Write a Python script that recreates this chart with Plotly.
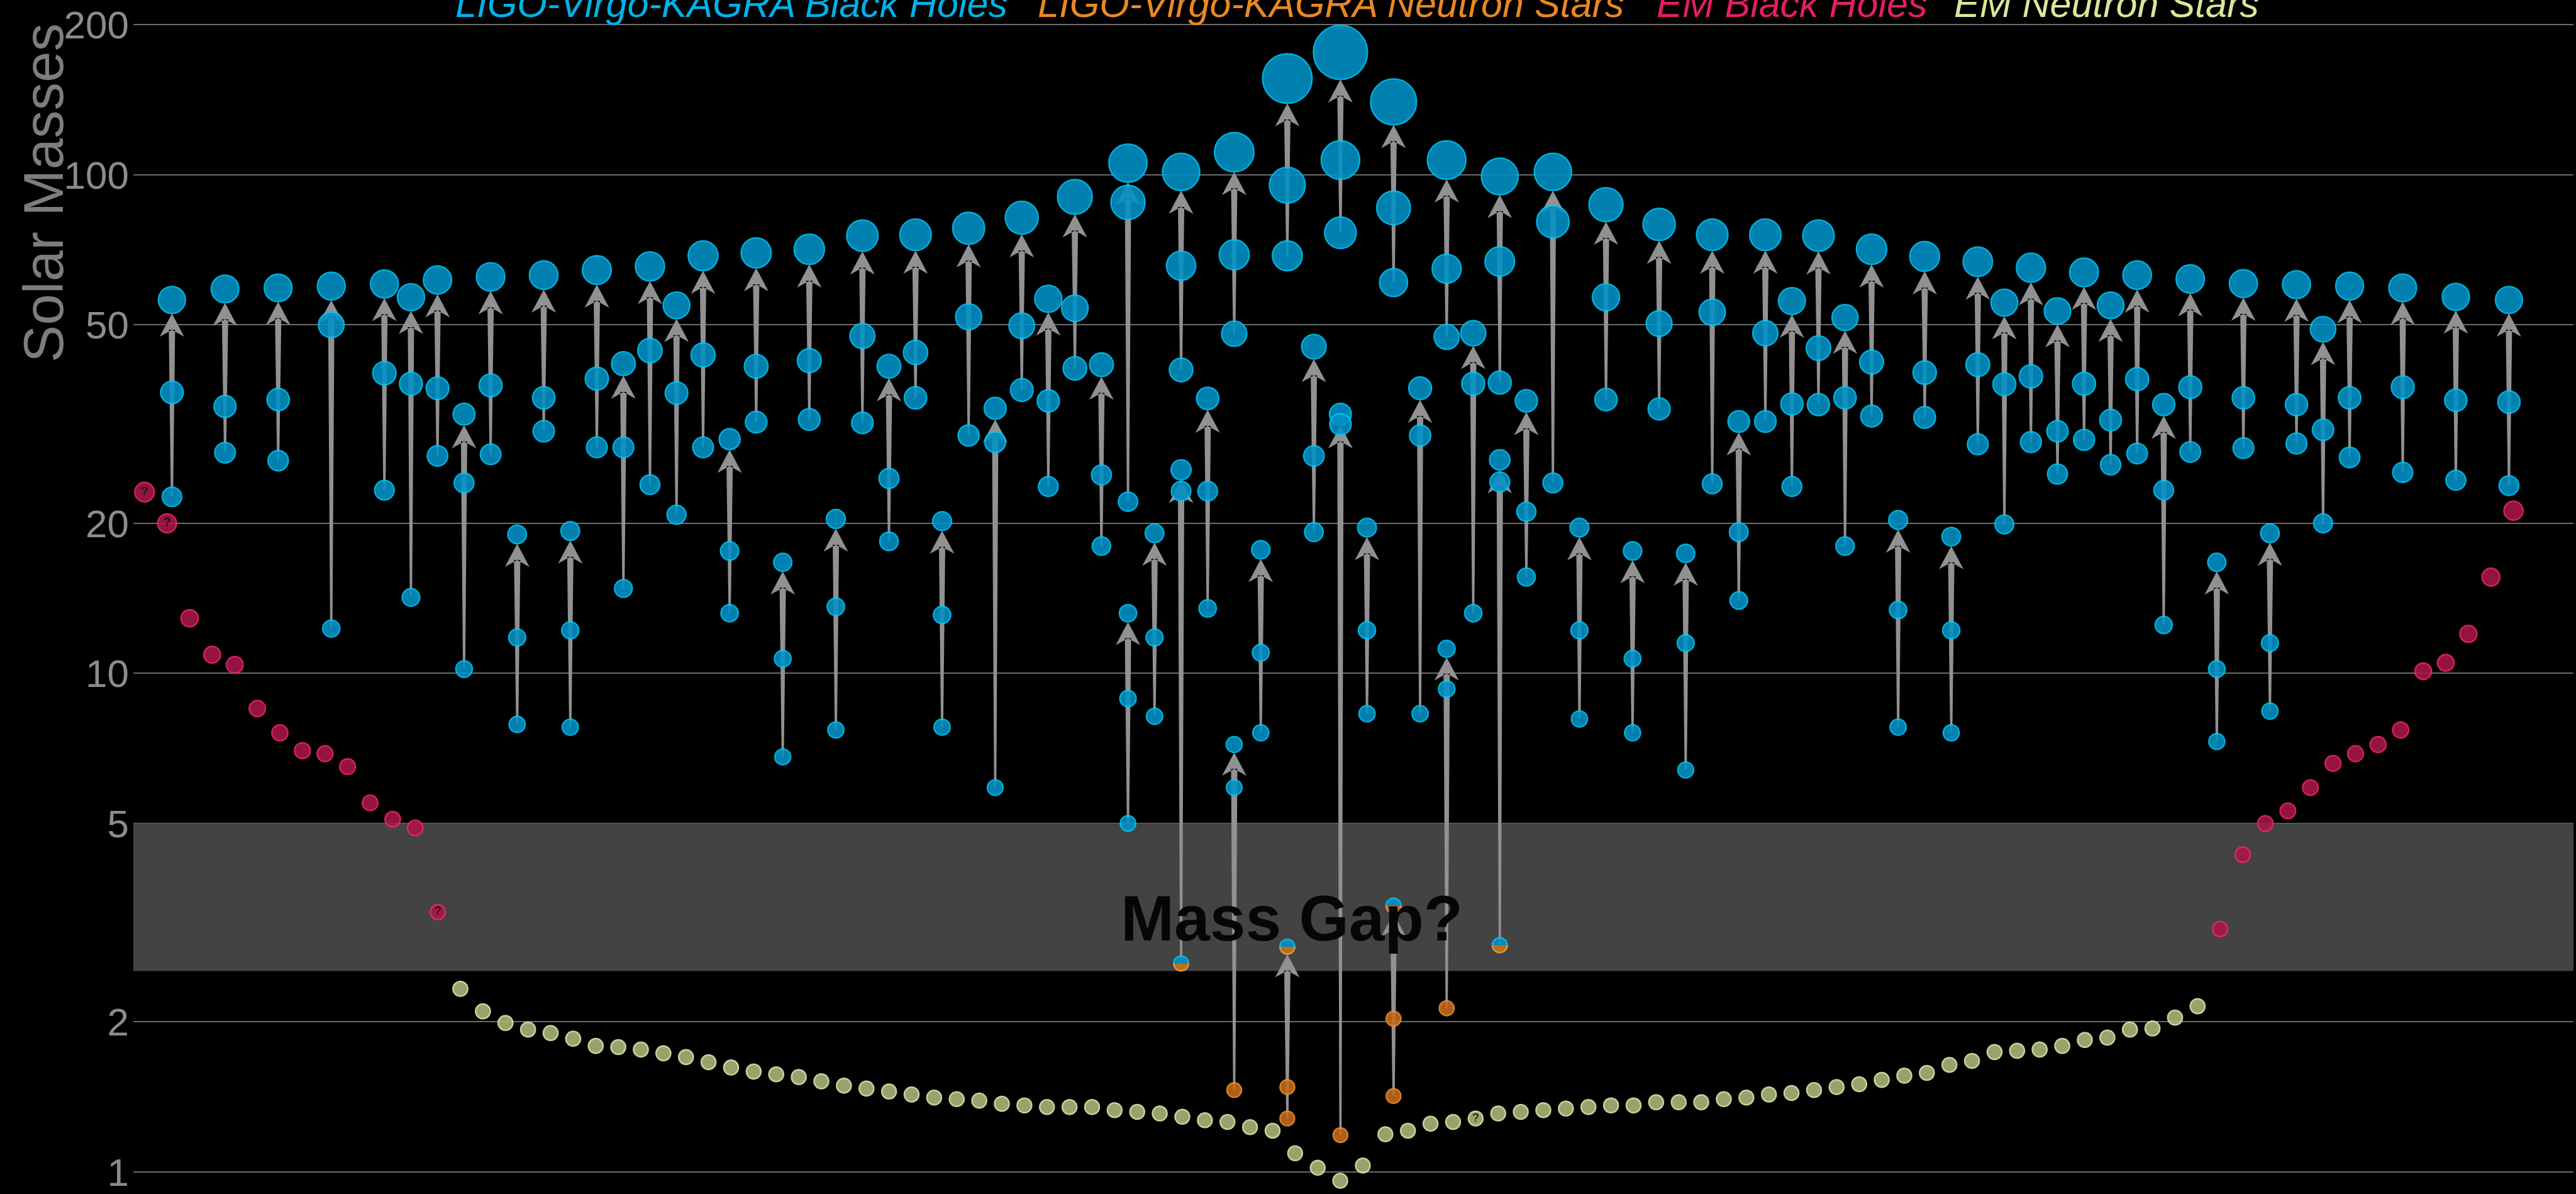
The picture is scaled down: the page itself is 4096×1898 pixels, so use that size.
import numpy as np
import plotly.graph_objects as go

# ---------------- DATA ----------------
# LIGO-Virgo-KAGRA binary black hole mergers: column slot, primary, secondary, remnant (solar masses)
bbh_slot = [0, 2, 4, 6, 8, 9, 10, 11, 12, 13, 14, 15, 16, 17, 18, 19, 20, 21, 22, 23,
            24, 25, 26, 27, 28, 29, 30, 31, 32, 33, 34, 35, 36, 36, 37, 38, 39, 40, 41, 42,
            43, 44, 45, 46, 47, 48, 49, 50, 51, 52, 53, 54, 55, 56, 57, 58, 59, 60, 61, 62,
            63, 64, 65, 66, 67, 68, 69, 70, 71, 72, 73, 74, 75, 76, 77, 78, 79, 80, 81, 82,
            84, 86, 88]
bbh_m1 = [36.6, 34.3, 35.4, 50.0, 40.0, 38.1, 37.3, 24.1, 37.8, 11.8,
          35.7, 12.2, 39.0, 28.4, 44.4, 36.5, 43.5, 17.6, 41.3, 10.7,
          42.4, 13.6, 47.5, 24.6, 44.0, 13.1, 51.9, 29.1, 49.8, 35.2,
          54.0, 25.0, 88.0, 8.9, 11.8, 65.7, 23.2, 69.1, 11.0, 95.3,
          27.3, 107.0, 12.2, 85.8, 30.0, 64.8, 38.1, 67.0, 21.1, 80.5,
          12.2, 56.8, 10.7, 50.3, 11.5, 53.0, 19.2, 48.1, 34.7, 44.9,
          35.7, 42.1, 13.4, 40.1, 12.2, 41.6, 38.0, 39.4, 30.6, 38.1,
          32.2, 38.9, 23.3, 37.5, 10.2, 35.7, 11.5, 34.6, 30.8, 35.7,
          37.5, 35.3, 35.0]
bbh_m2 = [22.6, 27.7, 26.7, 12.3, 23.3, 14.2, 27.3, 10.2, 27.5, 7.9,
          30.6, 7.8, 28.4, 14.8, 23.9, 20.8, 28.4, 13.2, 31.9, 6.8,
          32.3, 7.7, 31.8, 18.4, 35.7, 7.8, 30.0, 5.9, 37.0, 23.7,
          40.9, 18.0, 22.1, 5.0, 8.2, 40.6, 13.5, 48.0, 7.6, 68.8,
          19.2, 76.5, 8.3, 60.8, 8.3, 47.3, 13.2, 38.3, 15.6, 24.1,
          8.1, 35.4, 7.6, 33.9, 6.4, 24.0, 14.0, 32.0, 23.7, 34.6,
          18.0, 32.8, 7.8, 32.6, 7.6, 28.8, 19.9, 29.1, 25.1, 29.4,
          26.2, 27.6, 12.5, 27.8, 7.3, 28.3, 8.4, 28.9, 20.0, 27.1,
          25.3, 24.4, 23.8]
bbh_final = [56.1, 59.0, 59.3, 59.8, 60.4, 56.8, 61.5, 33.1, 62.4, 19.0,
             62.9, 19.3, 64.4, 41.8, 65.5, 54.7, 68.8, 29.5, 69.7, 16.7,
             70.9, 20.4, 75.5, 41.3, 75.8, 20.2, 78.1, 34.0, 82.0, 56.4,
             90.3, 41.6, 105.5, 13.2, 19.1, 101.3, 35.6, 111.0, 17.7, 156.0,
             45.2, 176.0, 19.6, 140.0, 37.3, 107.0, 48.1, 99.2, 35.2, 101.3,
             19.6, 87.1, 17.6, 79.5, 17.4, 75.8, 32.0, 75.8, 55.8, 75.5,
             51.7, 70.9, 20.3, 68.6, 18.8, 66.9, 55.4, 65.1, 53.3, 63.7,
             54.7, 62.9, 34.6, 61.8, 16.7, 60.5, 19.1, 60.2, 49.0, 59.8,
             59.3, 56.9, 56.1]

# LVK events with a neutron star or a mass-gap object (GAP = ambiguous, half BH / half NS)
ns_slot = [38, 40, 42, 44, 46, 48, 50]
ns_m1 = [23.2, 5.9, 1.48, 31.6, 2.03, 9.3, 24.2]
ns_m2 = [2.62, 1.46, 1.28, 1.185, 1.42, 2.13, 2.85]
ns_final = [25.6, 7.2, 2.83, 33.1, 3.42, 11.2, 26.8]
ns_m1_type = ["BH", "BH", "NS", "BH", "NS", "BH", "BH"]
ns_m2_type = ["GAP", "NS", "NS", "NS", "NS", "NS", "GAP"]
ns_final_type = ["BH", "BH", "GAP", "BH", "GAP", "BH", "BH"]

# Electromagnetic observations, in plotted order (left black holes, neutron stars, right black holes)
em_bh_left = [23.1, 20.0, 12.9, 10.9, 10.4, 8.5, 7.6, 7.0, 6.9, 6.5, 5.5, 5.1, 4.9, 3.32]
em_ns = [2.33, 2.10, 1.99, 1.93, 1.90, 1.85, 1.79, 1.78, 1.76, 1.73,
         1.70, 1.66, 1.62, 1.59, 1.57, 1.55, 1.52, 1.49, 1.47, 1.45,
         1.43, 1.41, 1.40, 1.39, 1.37, 1.36, 1.35, 1.35, 1.35, 1.33,
         1.32, 1.31, 1.29, 1.27, 1.26, 1.23, 1.21, 1.09, 1.02, 0.96,
         1.03, 1.19, 1.21, 1.25, 1.26, 1.28, 1.31, 1.32, 1.33, 1.34,
         1.35, 1.36, 1.36, 1.38, 1.38, 1.38, 1.40, 1.41, 1.43, 1.44,
         1.46, 1.48, 1.50, 1.53, 1.56, 1.58, 1.64, 1.67, 1.74, 1.75,
         1.76, 1.79, 1.84, 1.86, 1.93, 1.94, 2.04, 2.15]
em_bh_right = [3.07, 4.33, 5.0, 5.3, 5.9, 6.6, 6.9, 7.2, 7.7, 10.1, 10.5, 12.0, 15.6, 21.2]
em_bh_left_uncertain = [0, 1, 13]
em_ns_uncertain = [45]

y_tickvals = [1, 2, 5, 10, 20, 50, 100, 200]
y_ticktext = ["1", "2", "5", "10", "20", "50", "100", "200"]
mass_gap = [2.53, 5.0]
legend_labels = ["LIGO-Virgo-KAGRA Black Holes", "LIGO-Virgo-KAGRA Neutron Stars",
                 "EM Black Holes", "EM Neutron Stars"]

# ---------------- STYLE / LAYOUT ----------------
FONT = "Liberation Sans, Arial, sans-serif"
W, H = 4096, 1898
ML, MR = 212, 4
X_RANGE = [-1.454, 90.43]
X2_RANGE = [-0.495, 107.66]
Y_RANGE = [-0.0366, 2.3505]
PLOT_W = W - ML - MR
PX_SLOT = PLOT_W / (X_RANGE[1] - X_RANGE[0])
PX_DEC = H / (Y_RANGE[1] - Y_RANGE[0])
LW = 2.5

BH_FILL, BH_LINE = "rgb(0,146,198)", "rgb(0,198,250)"
NS_FILL, NS_LINE = "rgb(198,108,26)", "rgb(238,144,48)"
EMBH_FILL, EMBH_LINE = "rgb(170,22,76)", "rgb(238,38,108)"
EMNS_FILL, EMNS_LINE = "rgb(172,186,124)", "rgb(224,238,172)"
LEG_COLORS = ["rgb(0,178,232)", "rgb(232,136,36)", "rgb(228,30,100)", "rgb(216,232,152)"]
ARROW = "rgb(145,145,145)"
BAND = "rgb(67,67,67)"


def outer_diam(m):
    return 0.808 * (31.0 + 0.445 * m)


def msize(m):
    return outer_diam(m) - LW


all_slot = bbh_slot + ns_slot
all_m1 = bbh_m1 + ns_m1
all_m2 = bbh_m2 + ns_m2
all_final = bbh_final + ns_final
t_m1 = ["BH"] * len(bbh_slot) + ns_m1_type
t_m2 = ["BH"] * len(bbh_slot) + ns_m2_type
t_fin = ["BH"] * len(bbh_slot) + ns_final_type

fig = go.Figure()

# ---- mass gap band (drawn first, beneath all marks) ----
fig.add_trace(go.Scatter(x=[X_RANGE[0], X_RANGE[1], X_RANGE[1], X_RANGE[0]],
                         y=[mass_gap[0], mass_gap[0], mass_gap[1], mass_gap[1]],
                         mode="lines", fill="toself", fillcolor=BAND,
                         line=dict(width=0, color="rgba(0,0,0,0)"),
                         hoverinfo="skip", showlegend=False))

# ---- tapered arrows from the secondary up to the remnant ----
HEAD_HW, HEAD_LEN, NOTCH, SHAFT_TOP, SHAFT_BOT = 19.5, 37.0, 26.0, 5.0, 1.8
ax, ay = [], []
for s, lo, fin in zip(all_slot, all_m2, all_final):
    tip = np.log10(fin) - (outer_diam(fin) / 2.0 - 1.0) / PX_DEC
    corner = tip - HEAD_LEN / PX_DEC
    notch = tip - NOTCH / PX_DEC
    ax += [s - SHAFT_BOT / PX_SLOT, s + SHAFT_BOT / PX_SLOT, s + SHAFT_TOP / PX_SLOT, s - SHAFT_TOP / PX_SLOT, None]
    ay += [lo, lo, 10 ** notch, 10 ** notch, None]
    ax += [s, s + HEAD_HW / PX_SLOT, s, s - HEAD_HW / PX_SLOT, None]
    ay += [10 ** tip, 10 ** corner, 10 ** notch, 10 ** corner, None]
fig.add_trace(go.Scatter(x=ax, y=ay, mode="lines", fill="toself", fillcolor=ARROW,
                         line=dict(width=0, color="rgba(0,0,0,0)"), hoverinfo="skip", showlegend=False))


def markers(xs, ys, fill, line, xaxis="x", text=None):
    return go.Scatter(
        x=xs, y=ys, xaxis=xaxis, yaxis="y",
        mode="markers+text" if text is not None else "markers",
        text=text, textposition="middle center",
        textfont=dict(size=18, color="black", family=FONT),
        marker=dict(size=[msize(v) for v in ys], color=fill, opacity=0.88,
                    line=dict(color=line, width=LW)),
        hoverinfo="skip", showlegend=False)


# ---- LVK compact objects: remnants first, then primaries, then secondaries ----
bx, by, nx, ny, gx, gy = [], [], [], [], [], []
for masses, types in ((all_final, t_fin), (all_m1, t_m1), (all_m2, t_m2)):
    for s, m, t in zip(all_slot, masses, types):
        if t == "NS":
            nx.append(s); ny.append(m)
        else:
            bx.append(s); by.append(m)
            if t == "GAP":
                gx.append(s); gy.append(m)
fig.add_trace(markers(bx, by, BH_FILL, BH_LINE))
fig.add_trace(markers(nx, ny, NS_FILL, NS_LINE))

# lower (neutron-star) half of ambiguous mass-gap objects
hx, hy = [], []
th = np.linspace(0, -np.pi, 25)
for s, m in zip(gx, gy):
    r = msize(m) / 2.0
    hx += list(s + r * np.cos(th) / PX_SLOT) + [None]
    hy += list(10 ** (np.log10(m) + r * np.sin(th) / PX_DEC)) + [None]
fig.add_trace(go.Scatter(x=hx, y=hy, mode="lines", fill="toself", fillcolor=NS_FILL,
                         line=dict(width=LW, color=NS_LINE), opacity=0.95,
                         hoverinfo="skip", showlegend=False))

# ---- EM observations on their own evenly spaced axis ----
n_l, n_ns, n_r = len(em_bh_left), len(em_ns), len(em_bh_right)
embh_x = list(range(n_l)) + list(range(n_l + n_ns, n_l + n_ns + n_r))
embh_y = em_bh_left + em_bh_right
embh_t = ["?" if i in em_bh_left_uncertain else "" for i in range(n_l)] + [""] * n_r
fig.add_trace(markers(embh_x, embh_y, EMBH_FILL, EMBH_LINE, xaxis="x2", text=embh_t))
emns_x = list(range(n_l, n_l + n_ns))
emns_t = ["?" if i in em_ns_uncertain else "" for i in range(n_ns)]
fig.add_trace(markers(emns_x, em_ns, EMNS_FILL, EMNS_LINE, xaxis="x2", text=emns_t))

# ---- annotations ----
ann = []
leg_left_px = [722, 1648, 2632, 3105]
for lab, col, px in zip(legend_labels, LEG_COLORS, leg_left_px):
    ann.append(dict(text="<i>" + lab + "</i>", xref="paper", yref="paper",
                    x=(px - ML) / PLOT_W, y=0.99705, xanchor="left", yanchor="middle",
                    showarrow=False, font=dict(size=61, color=col, family=FONT)))
ann.append(dict(text="Solar Masses", xref="paper", yref="paper",
                x=(69.2 - ML) / PLOT_W, y=1 - 308 / H, xanchor="center", yanchor="middle",
                textangle=-90, showarrow=False, font=dict(size=89, color="rgb(125,125,125)", family=FONT)))
ann.append(dict(text="<b>Mass Gap?</b>", xref="x", yref="y", x=42.17, y=0.509,
                xanchor="center", yanchor="middle", showarrow=False,
                font=dict(size=102, color="rgb(6,6,6)", family=FONT)))

fig.update_layout(
    width=W, height=H,
    margin=dict(l=ML, r=MR, t=0, b=0, pad=0),
    paper_bgcolor="black", plot_bgcolor="black", showlegend=False,
    xaxis=dict(range=X_RANGE, visible=False, fixedrange=True),
    xaxis2=dict(range=X2_RANGE, overlaying="x", visible=False, fixedrange=True),
    yaxis=dict(type="log", range=Y_RANGE, tickvals=y_tickvals, ticktext=y_ticktext,
               showgrid=True, gridcolor="rgb(108,108,108)", gridwidth=2, zeroline=False,
               showline=False, ticks="", ticklabelstandoff=6, ticklabeloverflow="allow",
               tickfont=dict(size=62, color="rgb(140,140,140)", family=FONT)),
    annotations=ann,
)

fig.write_html("out.html", config={"displayModeBar": False},
               post_script="document.body.style.margin='0px';document.body.style.overflow='hidden';")
